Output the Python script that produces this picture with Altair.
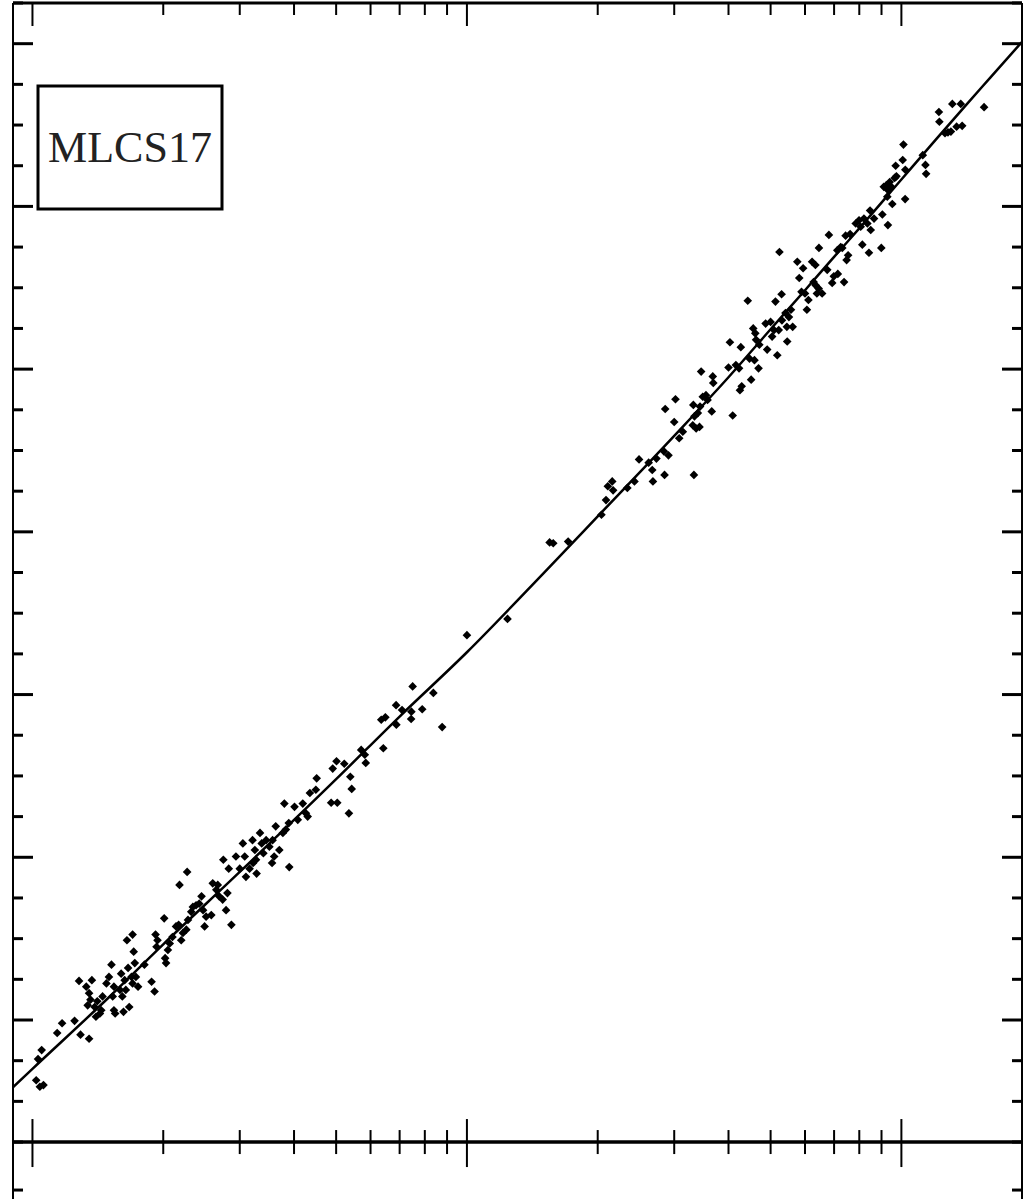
import altair as alt
import pandas as pd

# ---------------- data ----------------
sn_z = [
    0.0105, 0.0103, 0.0102, 0.0104, 0.0106, 0.0114, 0.0117, 0.0125, 0.0129, 0.0135,
    0.0128, 0.0137, 0.0133, 0.0135, 0.0134, 0.0136, 0.0139, 0.0141, 0.0143, 0.0140,
    0.0144, 0.0145, 0.0148, 0.0150, 0.0152, 0.0154, 0.0153, 0.0154, 0.0155, 0.0159,
    0.0160, 0.0163, 0.0161, 0.0164, 0.0167, 0.0162, 0.0166, 0.0169, 0.0170, 0.0173,
    0.0172, 0.0175, 0.0165, 0.0170, 0.0171, 0.0181, 0.0188, 0.0191, 0.0192, 0.0194,
    0.0193, 0.0201, 0.0203, 0.0202, 0.0205, 0.0207, 0.0210, 0.0214, 0.0217, 0.0222,
    0.0226, 0.0220, 0.0228, 0.0232, 0.0234, 0.0238, 0.0242, 0.0245, 0.0247, 0.0249,
    0.0251, 0.0258, 0.0260, 0.0265, 0.0267, 0.0269, 0.0274, 0.0279, 0.0281, 0.0287,
    0.0218, 0.0227, 0.0275, 0.0283, 0.0294, 0.0300, 0.0308, 0.0310, 0.0316, 0.0322,
    0.0328,
    0.0305, 0.0321, 0.0325, 0.0327, 0.0334, 0.0337, 0.0340, 0.0345, 0.0351, 0.0357,
    0.0360, 0.0356, 0.0363, 0.0370, 0.0377, 0.0383, 0.0389, 0.0390, 0.0380, 0.0401,
    0.0408, 0.0419, 0.0426, 0.0430, 0.0435, 0.0449, 0.0451, 0.0487, 0.0503, 0.0491,
    0.0501, 0.0522, 0.0539, 0.0543, 0.0535, 0.0571, 0.0582, 0.0585, 0.0642, 0.0635,
    0.0649, 0.0687, 0.0688, 0.0709, 0.0745, 0.0744, 0.0750, 0.0789, 0.0837, 0.0877,
    0.100, 0.124,
    0.155, 0.158, 0.171, 0.204, 0.209, 0.211, 0.216, 0.217, 0.234, 0.243,
    0.249, 0.262, 0.267, 0.268, 0.273, 0.285, 0.284, 0.291, 0.308, 0.314,
    0.300, 0.286, 0.302, 0.333, 0.331, 0.337, 0.343, 0.334, 0.340, 0.344,
    0.332, 0.349, 0.355, 0.358, 0.346, 0.368, 0.369, 0.366, 0.400, 0.403,
    0.409, 0.416, 0.423, 0.425, 0.429, 0.427, 0.443, 0.451, 0.447, 0.459,
    0.469, 0.456, 0.461, 0.463, 0.471, 0.487, 0.491, 0.500, 0.504, 0.509,
    0.518, 0.513, 0.530, 0.522, 0.531, 0.541, 0.545, 0.546,
    0.524, 0.557, 0.551, 0.562, 0.576, 0.582, 0.589, 0.600, 0.594, 0.606,
    0.611, 0.623, 0.634, 0.628, 0.635, 0.645, 0.657, 0.639, 0.646, 0.675,
    0.681, 0.693, 0.699, 0.714, 0.712, 0.725, 0.731, 0.738, 0.748, 0.754,
    0.744, 0.762, 0.785, 0.799, 0.806, 0.820, 0.835, 0.847, 0.850, 0.865,
    0.813, 0.842, 0.899, 0.904, 0.931, 0.911, 0.923, 0.932, 0.940, 0.948,
    0.965, 0.974, 0.928, 0.953, 1.02, 0.970, 1.007, 1.011, 1.021, 1.12,
    1.136, 1.14, 1.22, 1.223, 1.26, 1.28, 1.30, 1.34, 1.38, 1.31,
    1.37, 1.55,
]
sn_mu = [
    33.63, 33.52, 33.26, 33.18, 33.20, 33.84, 33.96, 33.99, 33.82, 33.77,
    34.48, 34.49, 34.41, 34.33, 34.18, 34.25, 34.16, 34.23, 34.08, 34.04,
    34.12, 34.29, 34.45, 34.53, 34.68, 34.41, 34.29, 34.12, 34.08, 34.37,
    34.57, 34.49, 34.29, 34.37, 34.16, 34.10, 34.64, 34.53, 34.45, 34.53,
    34.70, 34.41, 34.98, 35.05, 34.84, 34.68, 34.47, 34.35, 35.05, 34.98,
    34.90, 35.25, 34.70, 34.76, 34.86, 34.94, 35.02, 35.15, 35.17, 35.07,
    35.11, 34.98, 35.23, 35.33, 35.39, 35.41, 35.43, 35.52, 35.35, 35.15,
    35.27, 35.29, 35.68, 35.60, 35.66, 35.52, 35.48, 35.35, 35.56, 35.17,
    35.66, 35.82, 35.97, 35.86, 36.01, 35.86, 36.01, 35.76, 35.86, 35.93,
    35.80,
    36.17, 36.21, 36.09, 35.97, 36.30, 36.17, 36.05, 36.21, 36.13, 36.21,
    36.01, 35.93, 36.38, 36.09, 36.30, 36.34, 36.42, 35.88, 36.66, 36.62,
    36.46, 36.66, 36.54, 36.50, 36.79, 36.83, 36.97, 36.67, 36.67, 37.09,
    37.18, 37.15, 36.99, 36.84, 36.54, 37.32, 37.26, 37.16, 37.34, 37.69,
    37.72, 37.87, 37.63, 37.81, 37.79, 37.70, 38.10, 37.82, 38.02, 37.60,
    38.73, 38.93,
    39.87, 39.86, 39.88, 40.21, 40.39, 40.56, 40.62, 40.51, 40.54, 40.62,
    40.89, 40.85, 40.76, 40.62, 40.90, 40.70, 40.99, 40.94, 41.15, 41.23,
    41.35, 41.51, 41.63, 40.70, 41.31, 41.27, 41.29, 41.42, 41.46, 41.54,
    41.56, 41.66, 41.68, 41.62, 41.97, 41.91, 41.83, 41.48, 42.02, 42.33,
    41.43, 42.05, 42.01, 41.74, 41.79, 42.27, 42.84, 41.87, 42.13, 42.11,
    42.01, 42.50, 42.44, 42.36, 42.30, 42.56, 42.24, 42.58, 42.40, 42.48,
    42.17, 42.83, 42.92, 42.48, 42.60, 42.69, 42.52, 42.34,
    43.44, 42.73, 42.64, 42.52, 43.32, 43.12, 42.95, 42.93, 43.24, 42.73,
    42.85, 43.32, 43.28, 43.07, 43.03, 42.99, 42.93, 42.93, 43.49, 43.22,
    43.65, 43.06, 43.14, 43.17, 43.46, 43.50, 43.49, 43.07, 43.34, 43.40,
    43.64, 43.66, 43.79, 43.83, 43.75, 43.85, 43.79, 43.95, 43.71, 43.85,
    43.53, 43.43, 43.49, 43.90, 43.77, 44.24, 44.26, 44.20, 44.30, 44.24,
    44.35, 44.37, 44.12, 44.03, 44.09, 44.50, 44.57, 44.76, 44.45, 44.63,
    44.51, 44.40, 45.16, 45.04, 44.90, 44.91, 44.92, 44.98, 44.99, 45.26,
    45.26, 45.22,
]

line_z = [0.009, 0.01, 0.015, 0.02, 0.03, 0.05, 0.07, 0.1, 0.15, 0.2, 0.3,
          0.4, 0.5, 0.6, 0.7, 0.8, 1.0, 1.2, 1.4, 1.6, 1.9]
line_mu = [33.17, 33.40, 34.28, 34.93, 35.82, 36.96, 37.73, 38.52, 39.49, 40.19, 41.18,
           41.90, 42.49, 42.97, 43.38, 43.73, 44.33, 44.82, 45.23, 45.58, 46.03]

x_major = [0.01, 0.1, 1.0]
x_minor = [0.02, 0.03, 0.04, 0.05, 0.06, 0.07, 0.08, 0.09,
           0.2, 0.3, 0.4, 0.5, 0.6, 0.7, 0.8, 0.9]
y_major = [34, 36, 38, 40, 42, 44, 46]
y_minor = [32.5, 33, 33.5, 34.5, 35, 35.5, 36.5, 37, 37.5, 38.5, 39, 39.5,
           40.5, 41, 41.5, 42.5, 43, 43.5, 44.5, 45, 45.5, 46.5]
lower_panel_ticks = [31.91]
panel_floor = 32.5
label = "MLCS17"

# ---------------- chart ----------------
W, H = 1009, 1196
xscale = alt.Scale(type="log", domain=[0.00902, 1.895], nice=False)
yscale = alt.Scale(domain=[31.8, 46.5], nice=False, zero=False)
X = alt.X("z:Q", scale=xscale, axis=None)
Y = alt.Y("mu:Q", scale=yscale, axis=None)

sn = pd.DataFrame({"z": sn_z, "mu": sn_mu})
model = pd.DataFrame({"z": line_z, "mu": line_mu})
one = pd.DataFrame({"k": [0]})
xmaj = pd.DataFrame({"z": x_major})
xmin = pd.DataFrame({"z": x_minor})
ymaj = pd.DataFrame({"mu": y_major})
ymin = pd.DataFrame({"mu": y_minor + lower_panel_ticks})

ink = "black"

frame_left = alt.Chart(one).mark_rule(color=ink, strokeWidth=2).encode(
    x=alt.value(0), y=alt.value(0), y2=alt.value(H))
frame_right = alt.Chart(one).mark_rule(color=ink, strokeWidth=2).encode(
    x=alt.value(W), y=alt.value(0), y2=alt.value(H))
frame_top = alt.Chart(one).mark_rule(color=ink, strokeWidth=3).encode(
    y=alt.value(0), x=alt.value(0), x2=alt.value(W))
floor_line = alt.Chart(one).mark_rule(color=ink, strokeWidth=3.5).encode(
    y=alt.YDatum(panel_floor, type="quantitative", scale=yscale, axis=None),
    x=alt.value(0), x2=alt.value(W))

left_major = alt.Chart(ymaj).mark_rule(color=ink, strokeWidth=3).encode(
    y=Y, x=alt.value(0), x2=alt.value(20))
left_minor = alt.Chart(ymin).mark_rule(color=ink, strokeWidth=3).encode(
    y=Y, x=alt.value(0), x2=alt.value(10))
right_major = alt.Chart(ymaj).mark_rule(color=ink, strokeWidth=3).encode(
    y=Y, x=alt.value(W), x2=alt.value(W - 20))
right_minor = alt.Chart(ymin).mark_rule(color=ink, strokeWidth=3).encode(
    y=Y, x=alt.value(W), x2=alt.value(W - 10))

top_major = alt.Chart(xmaj).mark_rule(color=ink, strokeWidth=2).encode(
    x=X, y=alt.value(0), y2=alt.value(23))
top_minor = alt.Chart(xmin).mark_rule(color=ink, strokeWidth=2).encode(
    x=X, y=alt.value(0), y2=alt.value(12))
bot_major = alt.Chart(xmaj).mark_rule(color=ink, strokeWidth=2, yOffset=-23, y2Offset=25).encode(
    x=X,
    y=alt.YDatum(panel_floor, type="quantitative", scale=yscale, axis=None),
    y2=alt.Y2Datum(panel_floor))
bot_minor = alt.Chart(xmin).mark_rule(color=ink, strokeWidth=2, yOffset=-12, y2Offset=12).encode(
    x=X,
    y=alt.YDatum(panel_floor, type="quantitative", scale=yscale, axis=None),
    y2=alt.Y2Datum(panel_floor))

curve = alt.Chart(model).mark_line(color=ink, strokeWidth=2.5, clip=True,
                                   interpolate="monotone").encode(x=X, y=Y)
points = alt.Chart(sn).mark_point(shape="diamond", filled=True, color=ink,
                                  size=75, opacity=1).encode(x=X, y=Y)

box = alt.Chart(one).mark_rect(fill="white", stroke=ink, strokeWidth=3).encode(
    x=alt.value(25), x2=alt.value(209), y=alt.value(83), y2=alt.value(206))
text = alt.Chart(one).mark_text(text=label, font="Liberation Serif", fontSize=44,
                                align="center", baseline="middle", color="#222").encode(
    x=alt.value(117), y=alt.value(146))

chart = alt.layer(
    curve, points,
    frame_left, frame_right, frame_top, floor_line,
    left_major, left_minor, right_major, right_minor,
    top_major, top_minor, bot_major, bot_minor,
    box, text,
).properties(
    width=W, height=H, autosize="none",
    padding={"left": 13, "top": 3, "right": 2, "bottom": 0},
).configure_view(stroke=None)

chart.save("out.html", embed_options={"renderer": "svg", "actions": False})
